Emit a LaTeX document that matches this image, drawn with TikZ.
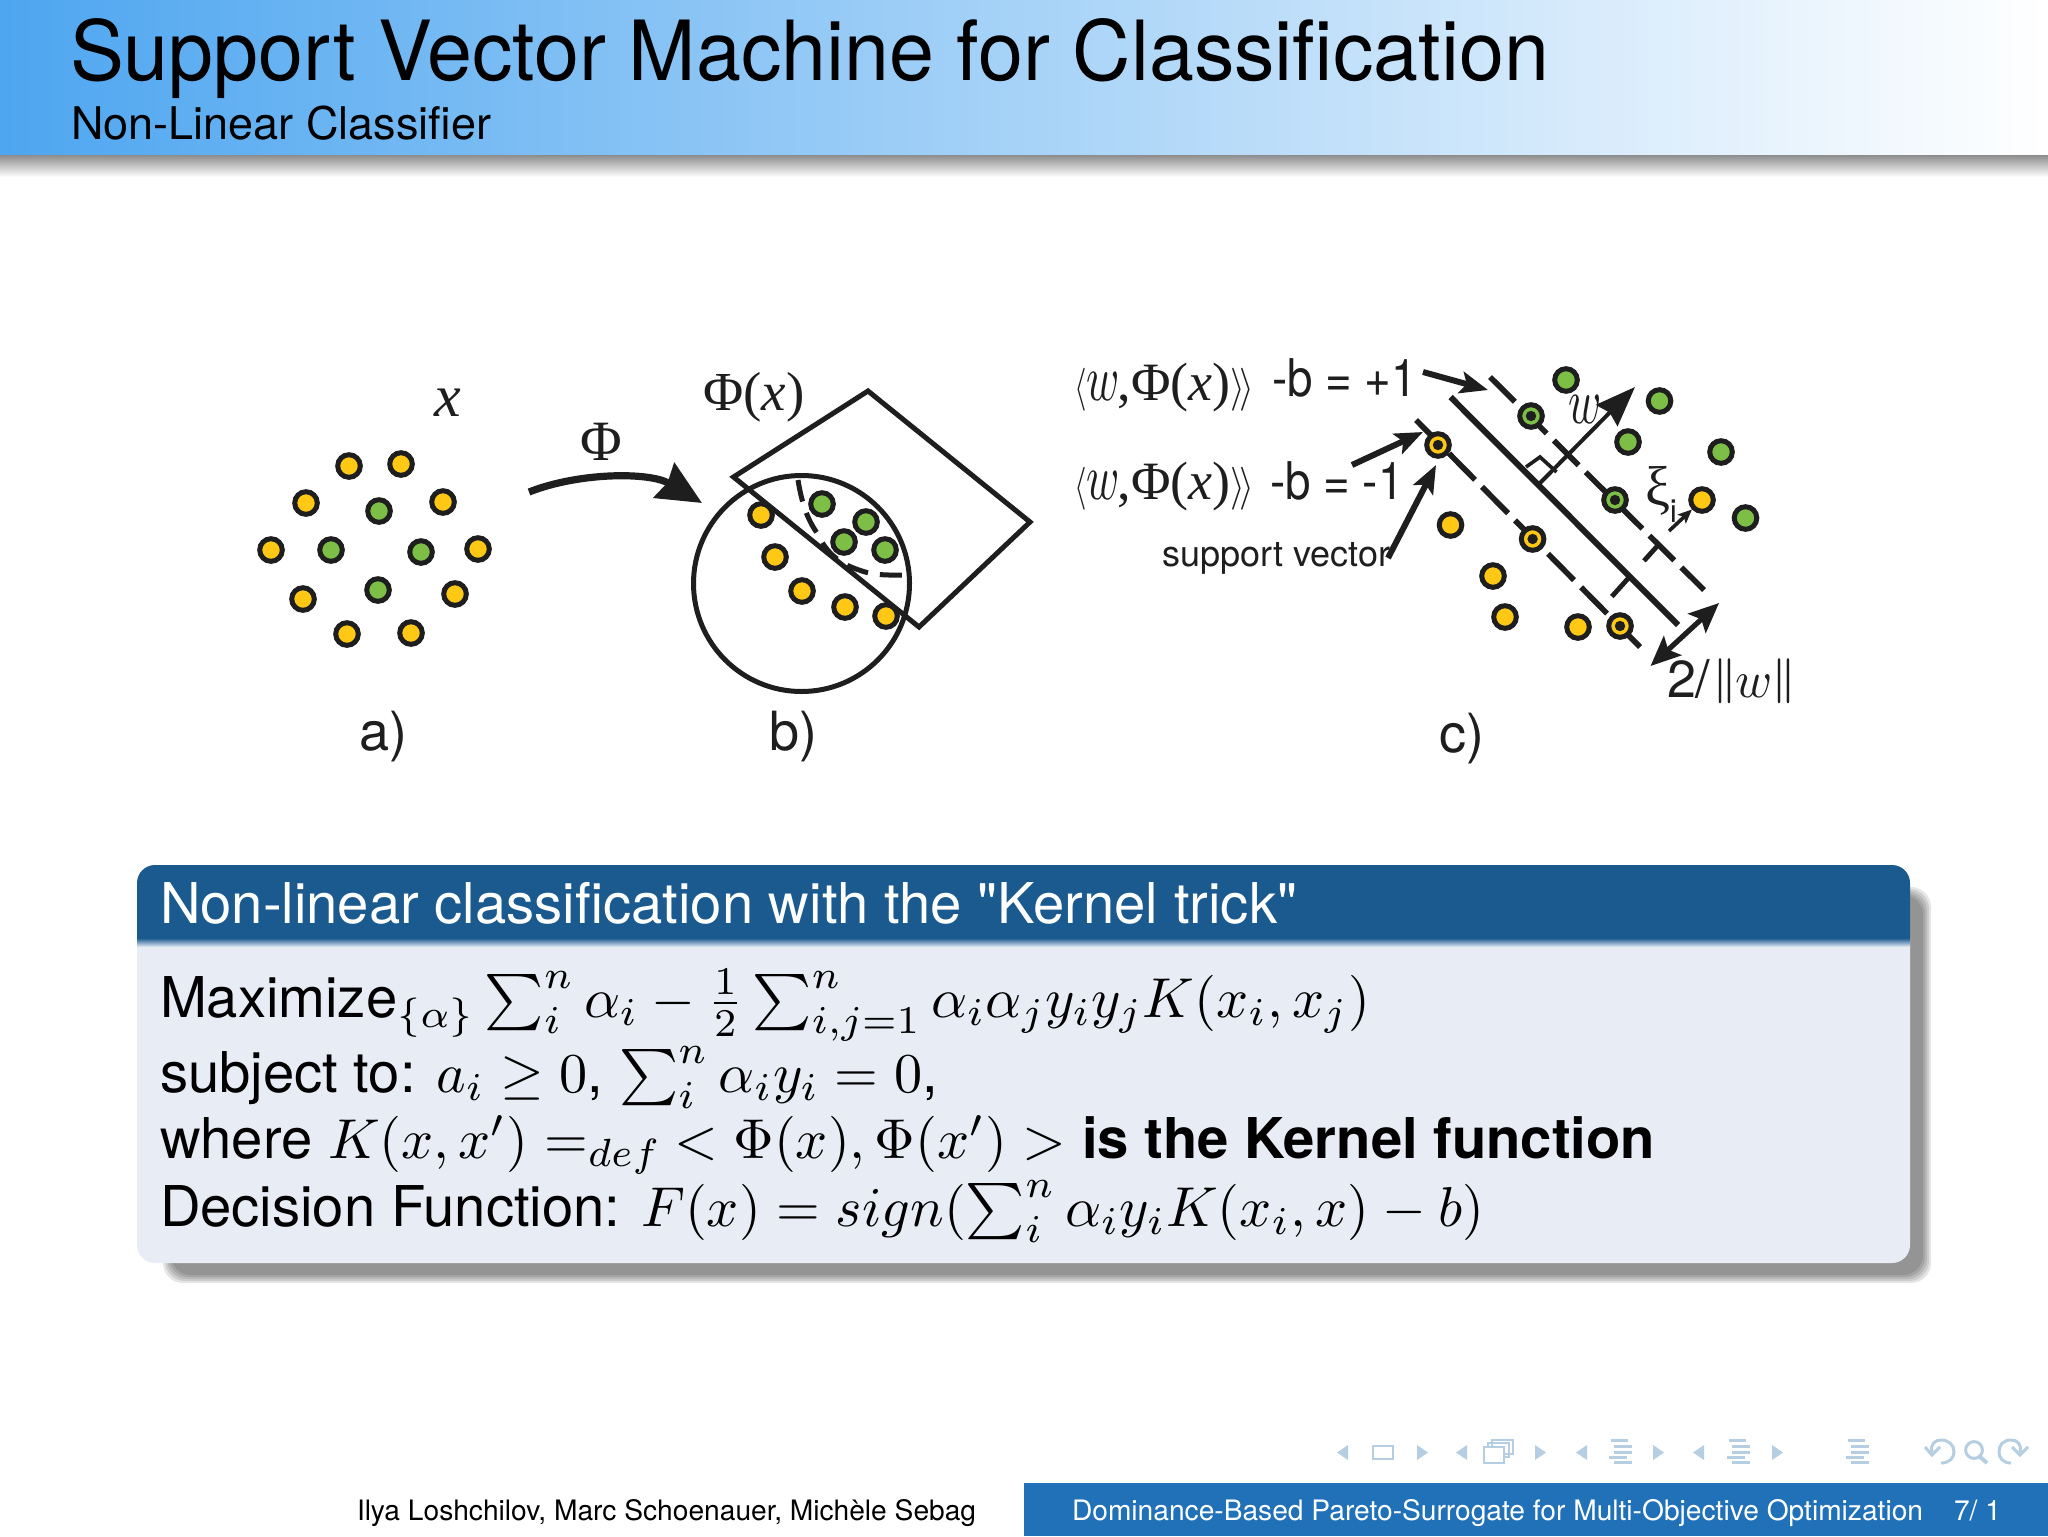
\documentclass[tikz,border=0pt]{standalone}
\usepackage{fontspec}
\usepackage{amsmath}
\usepackage{amssymb}
\usetikzlibrary{arrows.meta,shapes.geometric}
\setmainfont{TeX Gyre Heros}
\newfontfamily\serifx{Liberation Serif}
\newfontfamily\herosraw{TeX Gyre Heros}
\definecolor{hdleft}{RGB}{78,166,240}
\definecolor{blockhead}{RGB}{27,90,143}
\definecolor{blockbody}{RGB}{232,237,245}
\definecolor{footblue}{RGB}{33,113,184}
\definecolor{navc}{RGB}{182,206,226}
\definecolor{dotY}{RGB}{255,200,20}
\definecolor{dotG}{RGB}{125,190,70}
\definecolor{ink}{RGB}{30,30,30}
\newcommand{\tallw}{\scalebox{2.24}[3.25]{\normalsize$w$}}
\newcommand{\lbr}{\scalebox{1.6}[2.15]{\normalsize$\langle$}}
\newcommand{\rbr}{\scalebox{1.9}[2.15]{\normalsize$\rangle\!\rangle$}}
\newcommand{\eqtext}{\lbr\fontsize{27}{30}\selectfont\serifx\tallw\kern-1pt,Φ(\textit{x})\rbr}
\newcommand{\normbar}{\raisebox{2.5pt}{\scalebox{2}[2.25]{\normalsize\boldmath$\|$}}}
\tikzset{
  ydot/.style={circle,draw=ink,fill=dotY,line width=2.5pt,minimum size=11.3pt,inner sep=0pt},
  gdot/.style={circle,draw=ink,fill=dotG,line width=2.5pt,minimum size=11.3pt,inner sep=0pt},
  heavy/.style={draw=ink,line width=2.5pt},
  dashline/.style={draw=ink,line width=2.8pt},
  thinarrow/.style={draw=ink,line width=2pt,-{Stealth[length=14pt,width=11pt,inset=3pt]}},
  lab/.style={inner sep=0pt,outer sep=0pt,text=ink},
  txt/.style={inner sep=0pt,outer sep=0pt,anchor=base west,align=left},
  navtri/.style={fill=navc},
  navbar/.style={fill=navc},
  navline/.style={draw=navc,line width=1.5pt}
}
\begin{document}
\begin{tikzpicture}[x=0.5pt,y=-0.5pt]
\useasboundingbox (0,0) rectangle (2048,1536);
\fill[white] (0,0) rectangle (2048,1536);
% header
\shade[top color=black!47,bottom color=white] (0,154) rectangle (2048,177);
\shade[left color=hdleft,right color=white] (0,0) rectangle (2048,154);
\node[txt,xscale=0.974] (title) at (70,81) {\fontsize{41.5}{46}\selectfont Support Vector Machine for Classification};
\node[txt] (subtitle) at (71,140) {\fontsize{22.5}{26}\selectfont Non-Linear Classifier};

% panel a
\foreach \n/\x/\y in {a1/349/466,a2/401/464,a3/306/503,a4/443/502,a5/271/550,a6/478/549,a7/303/599,a8/455/594,a9/347/634,a10/411/633}
  \node[ydot] (\n) at (\x,\y) {};
\foreach \n/\x/\y in {a11/379/511,a12/331/550,a13/421/552,a14/378/590}
  \node[gdot] (\n) at (\x,\y) {};
\node[lab] (xlab) at (448,403) {\fontsize{30}{34}\selectfont\serifx\itshape x};
\node[lab] (alab) at (383,737) {\fontsize{27}{30}\selectfont a)};

% Phi arrow
\coordinate (phiS) at (529,492);
\coordinate (phiE) at (702,503);
\draw[draw=ink,line width=3.6pt,-{Stealth[length=22pt,width=20pt,inset=2pt]}] (phiS) .. controls (580,472) and (650,472) .. (phiE);
\node[lab] (philab) at (601,442) {\fontsize{28.5}{32}\selectfont\serifx Φ};

% panel b
\coordinate (r1) at (868,391);
\coordinate (r2) at (1030,522);
\coordinate (r3) at (919,627);
\coordinate (r4) at (733.5,477);
\draw[heavy] (r1)--(r2)--(r3)--(r4)--cycle;
\node[circle,heavy,minimum size=108pt,inner sep=0pt] (ball) at (801.5,583.5) {};
\coordinate (d1) at (798,480);
\coordinate (d2) at (817,533);
\coordinate (d3) at (859,570);
\coordinate (d4) at (908,575);
\draw[dashline,line width=2.5pt,dash pattern=on 11pt off 6pt] (d1) .. controls (802,505) and (808,520) .. (d2) .. controls (826,552) and (838,563) .. (d3) .. controls (875,576) and (890,575) .. (d4);
\foreach \n/\x/\y in {b1/761/515,b2/775/557,b3/802/591,b4/845/607,b5/886/616}
  \node[ydot] (\n) at (\x,\y) {};
\foreach \n/\x/\y in {b6/822/504,b7/866/522,b8/844/542,b9/885/550}
  \node[gdot] (\n) at (\x,\y) {};
\node[lab] (phixlab) at (754,397) {\fontsize{27.5}{32}\selectfont\serifx Φ(\textit{x})};
\node[lab] (blab) at (793,737) {\fontsize{27}{30}\selectfont b)};

% panel c lines
\coordinate (up1) at (1490,377);
\coordinate (up2) at (1704,590);
\coordinate (mid1) at (1450.5,397);
\coordinate (mid2) at (1678,625);
\coordinate (lo1) at (1416,420);
\coordinate (lo2) at (1641,648);
\draw[dashline,dash pattern=on 17.5pt off 5pt] (up1)--(up2);
\draw[heavy,line width=3pt] (mid1)--(mid2);
\draw[dashline,dash pattern=on 18.5pt off 5pt] (lo1)--(lo2);
\coordinate (xiT) at (1669,531);
\coordinate (xiK) at (1660,543);
\coordinate (xiB) at (1606,603);
\draw[draw=ink,line width=2.4pt,dash pattern=on 12pt off 10pt on 14pt off 8pt] (xiK)--(xiB);
\coordinate (ra1) at (1526,467);
\coordinate (ra2) at (1540,457);
\coordinate (ra3) at (1556.5,472);
\draw[draw=ink,line width=1.8pt] (ra1)--(ra2)--(ra3);
\coordinate (wS) at (1540,483);
\coordinate (wE) at (1635,387);
\draw[draw=ink,line width=2pt,-{Stealth[length=20pt,width=15pt,inset=2pt]}] (wS)--(wE);
% panel c dots
\foreach \n/\x/\y in {c1/1566/380,c2/1659.5/401,c3/1628/442,c4/1721/452,c5/1745.5/518,c6/1531/416,c7/1615/500}
  \node[gdot] (\n) at (\x,\y) {};
\foreach \n/\x/\y in {c8/1450.5/525,c9/1493/576,c10/1505/617,c11/1578/627,c12/1702/500,c13/1438/445,c14/1532.6/539,c15/1620/626}
  \node[ydot] (\n) at (\x,\y) {};
\foreach \n in {c6,c7,c13,c14,c15}
  \fill[ink] (\n) circle (2.6pt);
% panel c arrows
\coordinate (plusS) at (1423,372);
\coordinate (plusE) at (1488,390);
\draw[thinarrow,line width=3pt] (plusS)--(plusE);
\coordinate (minS) at (1352,465);
\coordinate (minE) at (1423,432);
\draw[thinarrow,line width=3pt] (minS)--(minE);
\coordinate (svS) at (1388,558);
\coordinate (svE) at (1436,465);
\draw[thinarrow,line width=3pt] (svS)--(svE);
\draw[draw=ink,line width=1.8pt,-{Stealth[length=7pt,width=6pt,inset=1.5pt]}] (xiT)--(c12);
\coordinate (dblA) at (1650.5,666);
\coordinate (dblB) at (1719,603);
\draw[draw=ink,line width=2.6pt,{Stealth[length=15pt,width=13pt,inset=3pt]}-{Stealth[length=15pt,width=13pt,inset=3pt]}] (dblA)--(dblB);
% panel c labels
\node[lab,anchor=base west] (eq1a) at (1074,400) {\eqtext};
\node[lab,anchor=base west] (eq1b) at (1272,396) {\scalebox{0.88}[1]{\fontsize{26}{30}\selectfont -b = +1}};
\node[lab,anchor=base west] (eq2a) at (1074,499) {\eqtext};
\node[lab,anchor=base west] (eq2b) at (1270,499) {\scalebox{0.88}[1]{\fontsize{26}{30}\selectfont -b = -1}};
\node[lab,anchor=base west] (svlab) at (1162,566) {\fontsize{18}{22}\selectfont support vector};
\node[lab] (wlab) at (1585,410) {\tallw};
\node[lab,anchor=base west] (xilab) at (1645,505) {\fontsize{28}{32}\selectfont\serifx ξ\raisebox{-8.5pt}{\fontsize{16}{18}\selectfont\rmfamily i}};
\node[lab,anchor=base west] (normlab) at (1667,697) {\fontsize{26}{30}\selectfont 2/\kern1.5pt\normbar\kern-0.5pt\scalebox{2.5}[2.6]{\normalsize$w$}\normbar};
\node[lab] (clab) at (1462,739) {\fontsize{27}{30}\selectfont c)};

% block
\foreach \o/\e in {0/2,2/4,4/6,6/8,8/10}
  \fill[black,opacity=0.10,rounded corners=10pt] (163+\o,887+\o) rectangle (1931-\o,1283-\o);
\fill[blockbody,rounded corners=9pt] (137,920) rectangle (1910,1263);
\fill[blockhead] (137,938) [rounded corners=9pt] -- (137,865) -- (1910,865) [sharp corners] -- (1910,938) -- cycle;
\shade[top color=blockhead,bottom color=blockbody] (137,938) rectangle (1910,947);
\node[txt,text=white] (blocktitle) at (160,923) {\fontsize{28.1}{32}\selectfont\herosraw Non-linear classification with the "Kernel trick"};
\node[txt,scale=2.81] (l1) at (160,1017) {Maximize$_{\{\alpha\}}\sum_i^n\alpha_i-\frac{1}{2}\sum_{i,j=1}^n\alpha_i\alpha_j y_i y_j K(x_i,x_j)$};
\node[txt,scale=2.81] (l2) at (160,1092) {subject to: $a_i\geq 0$, $\sum_i^n\alpha_i y_i=0$,};
\node[txt,scale=2.81] (l3) at (160,1158) {where $K(x,x')=_{def}\:<\Phi(x),\Phi(x')>$ \textbf{is the Kernel function}};
\node[txt,scale=2.81] (l4) at (160,1226) {Decision Function: $F(x)=sign(\sum_i^n\alpha_i y_i K(x_i,x)-b)$};

% nav symbols
\foreach \x in {1337,1456,1576,1693}
  \fill[navtri] (\x,1452.5)--(\x+11,1445)--(\x+11,1460)--cycle;
\foreach \x in {1417,1535,1653,1772}
  \fill[navtri] (\x,1445)--(\x+11,1452.5)--(\x,1460)--cycle;
\draw[navc,line width=1.3pt] (1373,1446) rectangle (1393,1459);
\draw[navc,line width=1pt] (1492,1440) rectangle (1513,1454);
\draw[navc,line width=1pt] (1488,1443) rectangle (1509,1457);
\fill[white] (1484,1447) rectangle (1504,1463);
\draw[navc,line width=1.2pt] (1484,1447) rectangle (1504,1463);
\foreach \x in {1609,1727,1846}{
  \fill[navbar] (\x+2,1439) rectangle (\x+19,1442);
  \fill[navbar] (\x+5,1445) rectangle (\x+23,1448);
  \fill[navbar] (\x+5,1451) rectangle (\x+23,1454);
  \fill[navbar] (\x,1456) rectangle (\x+18,1459);
  \fill[navbar] (\x+5,1461) rectangle (\x+23,1464);
}
\draw[navline] (1932,1452) .. controls (1930,1444) and (1935,1440) .. (1941,1440) .. controls (1949,1440) and (1954,1445) .. (1954,1452) .. controls (1954,1458) and (1949,1463) .. (1941,1463);
\draw[navline] (1925,1447) -- (1932,1455) -- (1940,1447);
\draw[navline] (1974,1450) circle (4.2pt);
\draw[navc,line width=2pt] (1979,1456) -- (1987,1463);
\draw[navline] (2020,1452) .. controls (2022,1444) and (2017,1440) .. (2011,1440) .. controls (2003,1440) and (1999,1445) .. (1999,1452) .. controls (1999,1458) and (2003,1463) .. (2011,1463);
\draw[navline] (2028,1447) -- (2020,1455) -- (2012,1447);

% footer
\fill[footblue] (1024,1483) rectangle (2048,1536);
\node[txt,text=black] (footL) at (357,1520) {\fontsize{14.08}{17}\selectfont Ilya Loshchilov, Marc Schoenauer, Michèle Sebag};
\node[txt,text=white] (footR) at (1072,1520) {\fontsize{14.08}{17}\selectfont Dominance-Based Pareto-Surrogate for Multi-Objective Optimization};
\node[txt,text=white] (footN) at (1954,1520) {\fontsize{14.08}{17}\selectfont 7/ 1};
\end{tikzpicture}
\end{document}
